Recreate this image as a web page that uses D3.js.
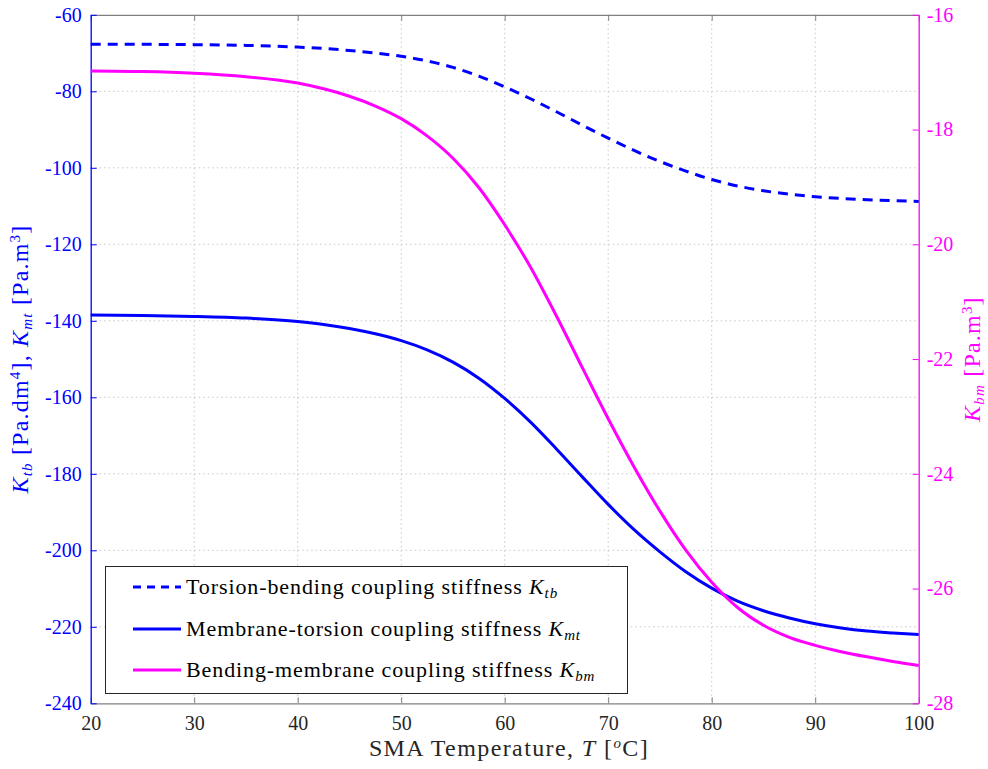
<!DOCTYPE html>
<html><head><meta charset="utf-8">
<script src="https://cdn.jsdelivr.net/npm/d3@7"></script>
<style>body{margin:0;background:#fff}svg{display:block}</style>
</head><body><svg id="c" width="988" height="769" font-family="Liberation Serif, serif"></svg>
<script>
const temps = [20,25,30,35,40,42.5,45,47.5,50,52.5,55,57.5,60,62.5,65,67.5,70,72.5,75,77.5,80,82.5,85,87.5,90,92.5,95,97.5,100];
const kTb = [-67.7,-67.72,-67.8,-68.0,-68.45,-68.8,-69.35,-70.0,-70.85,-72.05,-73.75,-76.05,-78.85,-81.95,-85.35,-88.85,-92.25,-95.45,-98.35,-100.85,-103.05,-104.75,-106.0,-106.9,-107.55,-108.0,-108.35,-108.6,-108.8];
const kMt = [-138.5,-138.6,-138.85,-139.3,-140.2,-140.95,-142.0,-143.4,-145.2,-147.6,-150.8,-155.0,-160.3,-166.5,-173.5,-180.8,-188.0,-194.6,-200.4,-205.6,-209.9,-213.3,-215.8,-217.7,-219.2,-220.3,-221.1,-221.6,-222.0];
const kBm = [-16.98,-16.99,-17.02,-17.08,-17.19,-17.29,-17.42,-17.59,-17.81,-18.11,-18.50,-19.01,-19.66,-20.40,-21.25,-22.15,-23.04,-23.88,-24.65,-25.33,-25.89,-26.33,-26.64,-26.85,-26.99,-27.10,-27.19,-27.27,-27.34];
const xTicks = [20,30,40,50,60,70,80,90,100];
const yLeftTicks = [-240,-220,-200,-180,-160,-140,-120,-100,-80,-60];
const yRightTicks = [-28,-26,-24,-22,-20,-18,-16];
const legendLabels = [
  ["Torsion-bending coupling stiffness ","K","tb"],
  ["Membrane-torsion coupling stiffness ","K","mt"],
  ["Bending-membrane coupling stiffness ","K","bm"]
];

const BLUE="#0000ff", MAG="#ff00ff", GRAY="#808080";
const L=90.7, R=918.7, T=14.8, B=703.3;
const svg=d3.select("#c");
const x=d3.scaleLinear().domain([20,100]).range([L,R]);
const yL=d3.scaleLinear().domain([-240,-60]).range([B,T]);
const yR=d3.scaleLinear().domain([-28,-16]).range([B,T]);
const FS=20, LFS=22, AFS=24, SFS=15;
const FF="Liberation Serif, serif";

// grid
const g=svg.append("g");
g.selectAll(".gx").data(xTicks.slice(1,-1)).join("line")
 .attr("x1",d=>x(d)).attr("x2",d=>x(d)).attr("y1",T).attr("y2",B)
 .attr("stroke","#c8c8c8").attr("stroke-width",1).attr("stroke-dasharray","1.5,3");
g.selectAll(".gy").data(yLeftTicks.slice(1,-1)).join("line")
 .attr("x1",L).attr("x2",R).attr("y1",d=>yL(d)).attr("y2",d=>yL(d))
 .attr("stroke","#c8c8c8").attr("stroke-width",1).attr("stroke-dasharray","1.5,3");

// axes
const axB=svg.append("g").attr("transform",`translate(0,${B})`)
 .call(d3.axisBottom(x).tickValues(xTicks).tickSizeInner(-6).tickSizeOuter(0).tickPadding(13));
const axT=svg.append("g").attr("transform",`translate(0,${T})`)
 .call(d3.axisTop(x).tickValues(xTicks).tickSizeInner(-6).tickSizeOuter(0).tickFormat(""));
[axB,axT].forEach(a=>{a.select(".domain").attr("stroke",GRAY).attr("stroke-width",1.3);
 a.selectAll(".tick line").attr("stroke",GRAY);});
axB.attr("font-family",FF).attr("font-size",FS);
axB.selectAll("text").attr("fill","#262626");

const axL=svg.append("g").attr("transform",`translate(${L},0)`)
 .call(d3.axisLeft(yL).tickValues(yLeftTicks).tickSizeInner(-6).tickSizeOuter(0).tickPadding(9).tickFormat(d=>d));
axL.attr("font-family",FF).attr("font-size",FS);
axL.select(".domain").attr("stroke",BLUE).attr("stroke-width",1.3);
axL.selectAll(".tick line").attr("stroke",BLUE);
axL.selectAll("text").attr("fill",BLUE);

const axR=svg.append("g").attr("transform",`translate(${R},0)`)
 .call(d3.axisRight(yR).tickValues(yRightTicks).tickSizeInner(-6).tickSizeOuter(0).tickPadding(8).tickFormat(d=>d));
axR.attr("font-family",FF).attr("font-size",FS);
axR.select(".domain").attr("stroke",MAG).attr("stroke-width",1.3);
axR.selectAll(".tick line").attr("stroke",MAG);
axR.selectAll("text").attr("fill",MAG);

// lines
const mk=(ys,scale)=>d3.line().x((d,i)=>x(temps[i])).y(d=>scale(d)).curve(d3.curveMonotoneX)(ys);
svg.append("path").attr("d",mk(kTb,yL)).attr("fill","none").attr("stroke",BLUE).attr("stroke-width",3).attr("stroke-dasharray","10,7");
svg.append("path").attr("d",mk(kMt,yL)).attr("fill","none").attr("stroke",BLUE).attr("stroke-width",3);
svg.append("path").attr("d",mk(kBm,yR)).attr("fill","none").attr("stroke",MAG).attr("stroke-width",3);

// legend
const lg=svg.append("g").attr("font-family",FF);
lg.append("rect").attr("x",105.5).attr("y",566.5).attr("width",522).attr("height",127)
 .attr("fill","#fff").attr("stroke","#262626").attr("stroke-width",1);
const lcol=[BLUE,BLUE,MAG], ldash=["8,6",null,null], lys=[587,629,670];
legendLabels.forEach((lab,i)=>{
  lg.append("line").attr("x1",133).attr("x2",181).attr("y1",lys[i]).attr("y2",lys[i])
   .attr("stroke",lcol[i]).attr("stroke-width",3).attr("stroke-dasharray",ldash[i]);
  const t=lg.append("text").attr("x",186).attr("y",lys[i]+7).attr("font-size",LFS).attr("fill","#000").attr("letter-spacing",0.9);
  t.append("tspan").text(lab[0]);
  t.append("tspan").attr("font-style","italic").text(lab[1]);
  t.append("tspan").attr("font-style","italic").attr("font-size",SFS).attr("dy",4).text(lab[2]);
});

// x label
const xl=svg.append("text").attr("x",509).attr("y",756).attr("text-anchor","middle").attr("font-size",AFS).attr("fill","#262626").attr("letter-spacing",1.4);
xl.append("tspan").text("SMA Temperature, ");
xl.append("tspan").attr("font-style","italic").text("T");
xl.append("tspan").text(" [");
xl.append("tspan").attr("font-style","italic").attr("font-size",SFS).attr("dy",-8).text("o");
xl.append("tspan").attr("dy",8).text("C]");

// left y label
const yl=svg.append("text").attr("transform",`translate(28,${(T+B)/2}) rotate(-90)`).attr("text-anchor","middle").attr("font-size",AFS).attr("fill",BLUE).attr("letter-spacing",1.2);
yl.append("tspan").attr("font-style","italic").text("K");
yl.append("tspan").attr("font-style","italic").attr("font-size",SFS).attr("dy",4).text("tb");
yl.append("tspan").attr("dy",-4).text(" [Pa.dm");
yl.append("tspan").attr("font-size",SFS).attr("dy",-8).text("4");
yl.append("tspan").attr("dy",8).text("], ");
yl.append("tspan").attr("font-style","italic").text("K");
yl.append("tspan").attr("font-style","italic").attr("font-size",SFS).attr("dy",4).text("mt");
yl.append("tspan").attr("dy",-4).text(" [Pa.m");
yl.append("tspan").attr("font-size",SFS).attr("dy",-8).text("3");
yl.append("tspan").attr("dy",8).text("]");

// right y label
const yr=svg.append("text").attr("transform",`translate(980,${(T+B)/2}) rotate(-90)`).attr("text-anchor","middle").attr("font-size",AFS).attr("fill",MAG).attr("letter-spacing",1.2);
yr.append("tspan").attr("font-style","italic").text("K");
yr.append("tspan").attr("font-style","italic").attr("font-size",SFS).attr("dy",4).text("bm");
yr.append("tspan").attr("dy",-4).text(" [Pa.m");
yr.append("tspan").attr("font-size",SFS).attr("dy",-8).text("3");
yr.append("tspan").attr("dy",8).text("]");
</script></body></html>
